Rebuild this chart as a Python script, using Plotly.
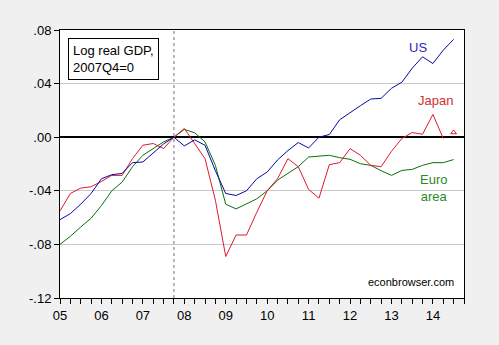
import plotly.graph_objects as go

# Quarterly periods, 2005Q1 .. 2014Q3
quarters = [f"{y}Q{q}" for y in range(2005, 2015) for q in range(1, 5)][:39]

# Log real GDP relative to 2007Q4
us = [-0.0615, -0.057, -0.050, -0.042, -0.031, -0.028, -0.027, -0.019,
      -0.0185, -0.012, -0.005, 0.000, -0.0065, -0.002, -0.006, -0.025,
      -0.042, -0.0435, -0.040, -0.031, -0.026, -0.017, -0.010, -0.004,
      -0.008, 0.000, 0.002, 0.013, 0.0185, 0.0235, 0.0285, 0.029,
      0.0365, 0.041, 0.0515, 0.060, 0.055, 0.065, 0.073]
japan = [-0.055, -0.042, -0.038, -0.037, -0.033, -0.0285, -0.0285, -0.016,
         -0.006, -0.0047, -0.0085, 0.000, 0.0065, -0.0047, -0.016, -0.047,
         -0.089, -0.073, -0.073, -0.056, -0.040, -0.031, -0.016, -0.022,
         -0.039, -0.0455, -0.0205, -0.019, -0.0085, -0.0135, -0.021, -0.022,
         -0.0105, -0.001, 0.0035, 0.0022, 0.017, -0.001]
japan_next = ["2014Q3"]
japan_next_val = [0.0035]
euro = [-0.080, -0.074, -0.067, -0.0605, -0.051, -0.040, -0.0335, -0.022,
        -0.0135, -0.0085, -0.0035, 0.000, 0.0058, 0.0033, -0.0035, -0.021,
        -0.050, -0.0535, -0.050, -0.046, -0.040, -0.032, -0.027, -0.022,
        -0.0148, -0.0143, -0.0135, -0.0153, -0.0165, -0.0198, -0.021, -0.025,
        -0.0285, -0.0248, -0.024, -0.021, -0.019, -0.019, -0.0167]

year_ticks = list(range(2005, 2015))
year_text = [f"{y % 100:02d}" for y in year_ticks]
y_ticks = [-0.12, -0.08, -0.04, 0.0, 0.04, 0.08]
y_text = ["-.12", "-.08", "-.04", ".00", ".04", ".08"]


def to_num(p):
    y, q = p.split("Q")
    return int(y) + (int(q) - 1) / 4


xq = [to_num(p) for p in quarters]

C_US = "#0808a8"
C_JP = "#e0182e"
C_EU = "#0a700a"
FONT = "Liberation Sans, Arial, sans-serif"

fig = go.Figure()
fig.add_trace(go.Scatter(x=xq[:len(euro)], y=euro, mode="lines",
                         line=dict(color=C_EU, width=1)))
fig.add_trace(go.Scatter(x=xq[:len(japan)], y=japan, mode="lines",
                         line=dict(color=C_JP, width=1)))
fig.add_trace(go.Scatter(x=xq[:len(us)], y=us, mode="lines",
                         line=dict(color=C_US, width=1)))
fig.add_trace(go.Scatter(x=[to_num(p) for p in japan_next], y=japan_next_val,
                         mode="markers",
                         marker=dict(symbol="triangle-up-open", size=5,
                                     color=C_JP, line=dict(width=1, color=C_JP))))

# 2007Q4 reference line
fig.add_shape(type="line", x0=to_num("2007Q4"), x1=to_num("2007Q4"),
              y0=0, y1=1, yref="paper",
              line=dict(color="#707070", width=1, dash="3px,3px"))

fig.add_annotation(x=0.02, y=0.972, xref="paper", yref="paper",
                   xanchor="left", yanchor="top", align="left",
                   text="Log real GDP,<br>2007Q4=0", showarrow=False,
                   bordercolor="black", borderwidth=1, borderpad=4,
                   bgcolor="white", font=dict(family=FONT, size=13, color="black"))
fig.add_annotation(x=2013.65, y=0.067, text="US", showarrow=False,
                   font=dict(family=FONT, size=13, color="#2828c0"))
fig.add_annotation(x=2014.07, y=0.0275, text="Japan", showarrow=False,
                   font=dict(family=FONT, size=13, color="#d03030"))
fig.add_annotation(x=2014.02, y=-0.038, text="Euro<br>area", showarrow=False,
                   font=dict(family=FONT, size=13, color="#2a8a2a"))
fig.add_annotation(x=0.98, y=0.03, xref="paper", yref="paper",
                   xanchor="right", yanchor="bottom",
                   text="econbrowser.com", showarrow=False,
                   font=dict(family=FONT, size=11, color="black"))

fig.update_xaxes(range=[2005, 2014.75], tickvals=year_ticks, ticktext=year_text,
                 ticks="outside", ticklen=5, tickcolor="black",
                 minor=dict(dtick=0.25, tick0=2005, ticks="outside", ticklen=5,
                            tickcolor="black", showgrid=False),
                 showgrid=False, zeroline=False,
                 showline=True, linecolor="black", linewidth=1, mirror=True,
                 tickfont=dict(family=FONT, size=13, color="black"))
fig.update_yaxes(range=[-0.12, 0.08], tickvals=y_ticks, ticktext=y_text,
                 ticks="outside", ticklen=5, tickcolor="black",
                 showgrid=True, gridcolor="#c8c8c8", gridwidth=1,
                 zeroline=True, zerolinecolor="black", zerolinewidth=1.5,
                 showline=True, linecolor="black", linewidth=1, mirror=True,
                 tickfont=dict(family=FONT, size=13, color="black"))

fig.update_layout(width=499, height=345, showlegend=False,
                  margin=dict(l=60, r=35, t=30, b=47),
                  paper_bgcolor="#f0f0f0", plot_bgcolor="white")

fig.write_html("out.html")
